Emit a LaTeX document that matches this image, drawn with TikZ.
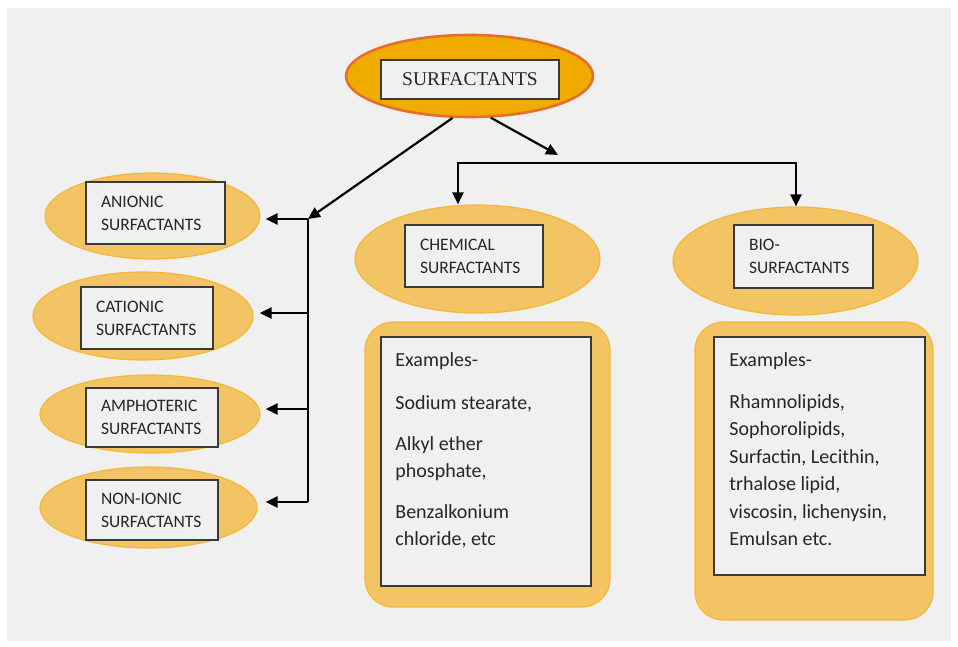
\documentclass[tikz,border=0pt]{standalone}
\usepackage{fontspec}
\setmainfont{Carlito}
\newfontfamily\serifx{Liberation Serif}
\usetikzlibrary{arrows.meta,shapes.geometric,calc}
\definecolor{panel}{HTML}{F0F0F0}
\definecolor{ellfill}{HTML}{F2C464}
\definecolor{ellline}{HTML}{F4B838}
\definecolor{topfill}{HTML}{EFAB00}
\definecolor{topline}{HTML}{E66E28}
\definecolor{boxline}{HTML}{3A3A3A}
\definecolor{txt}{HTML}{262626}
\begin{document}
\begin{tikzpicture}[x=1pt,y=-1pt,
  ell/.style={ellipse, draw=ellline, fill=ellfill, line width=1.2pt, inner sep=0pt},
  topell/.style={ellipse, draw=topline, fill=topfill, line width=2.6pt, inner sep=0pt},
  lab/.style={rectangle, draw=boxline, fill=panel, line width=1.6pt, text=txt,
    font=\fontsize{17.5}{23}\selectfont, align=left, inner xsep=15pt, inner ysep=0pt},
  rbox/.style={rectangle, rounded corners=28pt, draw=ellline, fill=ellfill, line width=1.2pt, inner sep=0pt},
  listbox/.style={rectangle, draw=boxline, fill=panel, line width=1.6pt, inner sep=0pt},
  exs/.style={font=\fontsize{20}{27.5}\selectfont, text=txt, align=left, anchor=north west, inner sep=0pt},
  conn/.style={draw=black, line width=2.2pt},
  arr/.style={conn, -{Triangle[length=12pt,width=11pt]}},
  arrb/.style={conn, {Triangle[length=12pt,width=11pt]}-{Triangle[length=12pt,width=11pt]}}
]
\useasboundingbox (0,0) rectangle (958,647);
\fill[white] (0,0) rectangle (958,647);
\fill[panel] (7,8) rectangle (951,641);

% top
\node[topell, minimum width=247pt, minimum height=82pt] (topE) at (469.5,76) {};
\node[lab, font=\serifx\fontsize{19.5}{23}\selectfont, align=center, inner xsep=0pt,
  minimum width=178pt, minimum height=39pt] (top) at (470,79.5) {SURFACTANTS};

% left column
\node[ell, minimum width=215pt, minimum height=86pt] (anionE) at (152.5,216) {};
\node[lab, text width=109pt, minimum height=62pt] (anion) at (155.5,213) {ANIONIC\\SURFACTANTS};
\node[ell, minimum width=220pt, minimum height=88pt] (cationE) at (143,316) {};
\node[lab, text width=102pt, minimum height=62pt] (cation) at (147,318) {CATIONIC\\SURFACTANTS};
\node[ell, minimum width=220pt, minimum height=78pt] (amphoE) at (150,414) {};
\node[lab, text width=102pt, minimum height=59pt] (ampho) at (152,417.5) {AMPHOTERIC\\SURFACTANTS};
\node[ell, minimum width=217pt, minimum height=81pt] (nonE) at (148.5,507.5) {};
\node[lab, text width=102pt, minimum height=60pt] (non) at (152,510) {NON-IONIC\\SURFACTANTS};

% chemical
\node[ell, minimum width=245pt, minimum height=108pt] (chemE) at (477.5,259) {};
\node[lab, text width=108pt, minimum height=62pt] (chem) at (474,256) {CHEMICAL\\SURFACTANTS};
\node[rbox, minimum width=245pt, minimum height=285pt] (chemR) at (487.5,464.5) {};
\node[listbox, minimum width=210pt, minimum height=249pt] (chemL) at (486,461.5) {};
\node[exs] (chemT) at ($(chemL.north west)+(15,10)$)
  {\rule{0pt}{20pt}Examples-\\[15.5pt]Sodium stearate,\\[13.5pt]Alkyl ether\\phosphate,\\[13pt]Benzalkonium\\chloride, etc};

% bio
\node[ell, minimum width=245pt, minimum height=108pt] (bioE) at (795.5,261) {};
\node[lab, text width=109pt, minimum height=63pt] (bio) at (803.5,256.5) {BIO-\\SURFACTANTS};
\node[rbox, minimum width=238pt, minimum height=298pt] (bioR) at (814,471) {};
\node[listbox, minimum width=211pt, minimum height=238pt] (bioL) at (819.5,456) {};
\node[exs] (bioT) at ($(bioL.north west)+(16,10)$)
  {\rule{0pt}{20pt}Examples-\\[14.5pt]Rhamnolipids,\\Sophorolipids,\\Surfactin, Lecithin,\\trhalose lipid,\\viscosin, lichenysin,\\Emulsan etc.};

% connectors
\coordinate (jl) at (308,219);
\coordinate (j2) at (308,313);
\coordinate (j3) at (308,409);
\coordinate (j4) at (308,502);
\coordinate (jr) at (558,155);
\coordinate (hl) at (458,163);
\coordinate (hr) at (796,163);

\draw[arr] (topE.248) -- (jl);
\draw[conn] (jl) -- (j4);
\draw[arr, shorten >=5pt] (jl) -- (jl -| anionE.east);
\draw[arr, shorten >=6pt] (j2) -- (j2 -| cationE.east);
\draw[arr, shorten >=5pt] (j3) -- (j3 -| amphoE.east);
\draw[arr, shorten >=8pt] (j4) -- (j4 -| nonE.east);
\draw[arr] (topE.297) -- (jr);
\draw[arrb] (hl |- chemE.north) -- (hl) -- (hr) -- (hr |- bioE.north);
\end{tikzpicture}
\end{document}
